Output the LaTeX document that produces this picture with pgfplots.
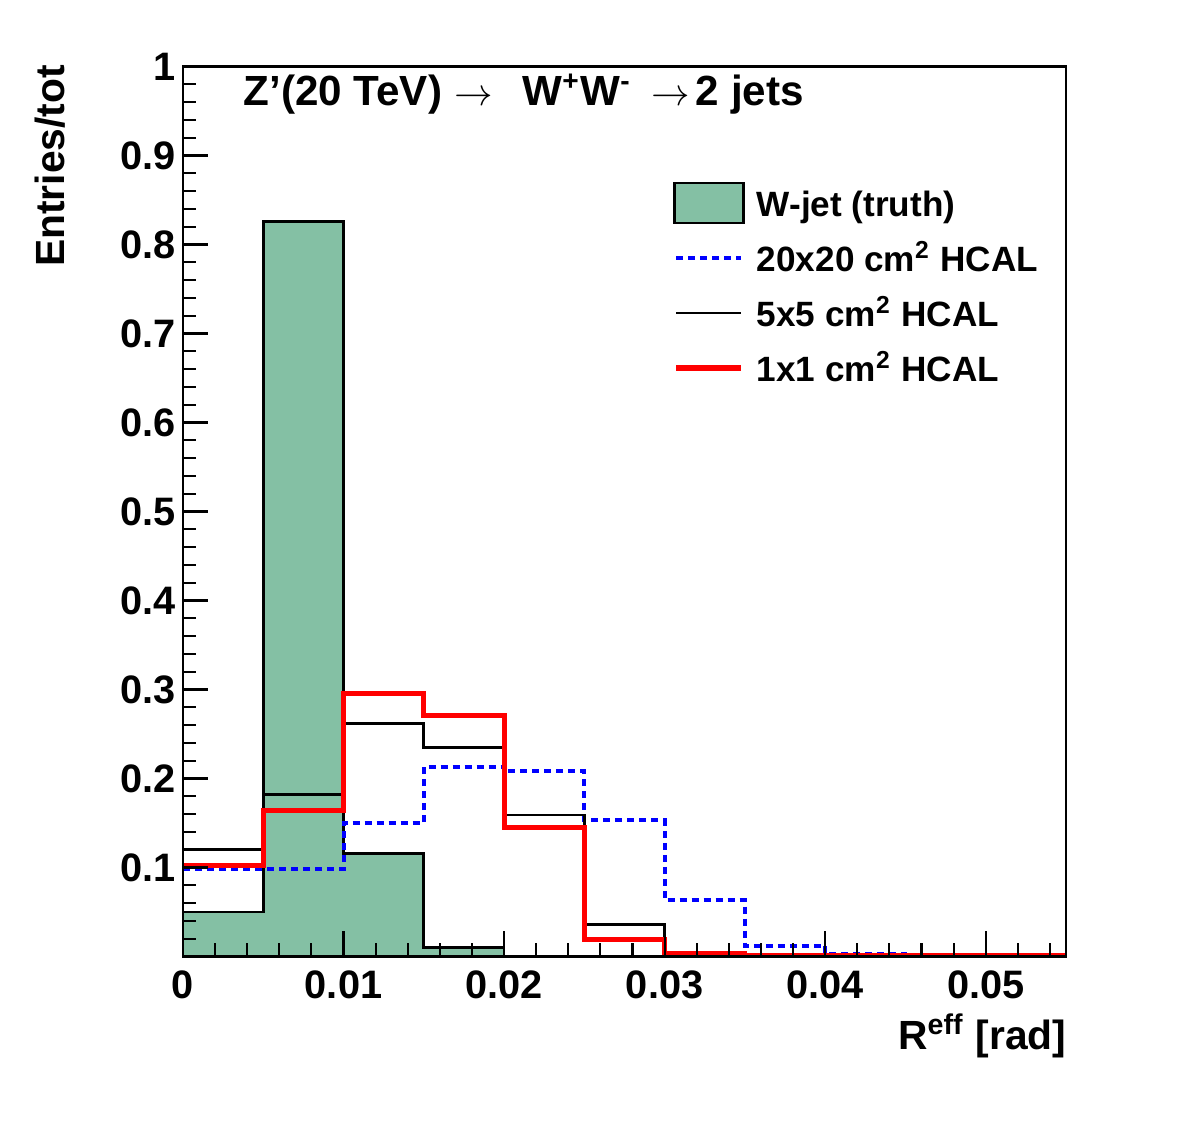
\documentclass[border=0pt]{standalone}
\usepackage{fontspec}
\setmainfont{Liberation Sans}
\usepackage{pgfplots}
\pgfplotsset{compat=1.18}

\definecolor{truthfill}{RGB}{132,192,164}
\definecolor{rootblue}{RGB}{0,0,255}
\definecolor{rootred}{RGB}{255,0,0}

\pgfplotsset{
  histline legend/.style={legend image code/.code={\draw[##1] (0.02cm,0cm) -- (0.67cm,0cm);}},
  histbox legend/.style={legend image code/.code={\draw[##1] (0cm,-0.2cm) rectangle (0.69cm,0.2cm);}},
}

\newcommand{\lblfont}{\bfseries\fontsize{11.6}{14}\selectfont}
\newcommand{\arr}{{\fontsize{10.5}{12}\selectfont$\rightarrow$}}

\begin{document}
\begin{tikzpicture}
% page frame around the axis box
\path[use as bounding box] (-1.83cm,-1.775cm) rectangle (9.99cm,9.565cm);
\begin{axis}[
  name=ax, at={(0,0)}, anchor=south west,
  scale only axis, width=8.83cm, height=8.90cm,
  xmin=0, xmax=0.055, ymin=0, ymax=1,
  axis on top,
  axis line style={line width=0.6pt},
  tick align=inside, tick pos=left,
  major tick length=0.25cm, minor tick length=0.13cm,
  tick style={black, line width=0.6pt},
  xtick={0,0.01,0.02,0.03,0.04,0.05},
  xticklabels={0,0.01,0.02,0.03,0.04,0.05},
  minor xtick={0.002,0.004,0.006,0.008,0.012,0.014,0.016,0.018,
               0.022,0.024,0.026,0.028,0.032,0.034,0.036,0.038,
               0.042,0.044,0.046,0.048,0.052,0.054},
  ytick={0,0.1,0.2,0.3,0.4,0.5,0.6,0.7,0.8,0.9,1},
  yticklabels={,0.1,0.2,0.3,0.4,0.5,0.6,0.7,0.8,0.9,1},
  minor y tick num=4,
  scaled ticks=false,
  /pgf/number format/assume math mode=true,
  ticklabel style={font=\bfseries\fontsize{11.3}{13}\selectfont, inner sep=0pt},
  xticklabel style={yshift=-0.135cm},
  yticklabel style={xshift=-0.07cm},
  legend cell align=left,
  legend style={
    at={(0.555,0.8775)}, anchor=north west,
    draw=none, fill=white, inner sep=0pt, outer sep=0pt,
    row sep=0pt,
    font=\bfseries\fontsize{10}{12}\selectfont,
    nodes={inner sep=0pt, text height=0.405cm, text depth=0.145cm},
    /tikz/every odd column/.append style={column sep=0.12cm},
  },
]

% W-jet (truth), filled histogram
\addplot[fill=truthfill, draw=black, line width=0.8pt, const plot, histbox legend]
  coordinates {
  (0.000,0.050) (0.005,0.826) (0.010,0.116) (0.015,0.010) (0.020,0.0005)
  (0.025,0) (0.030,0) (0.035,0) (0.040,0) (0.045,0) (0.050,0) (0.055,0)
  } \closedcycle;
\addlegendentry{W-jet (truth)}

% 20x20 cm^2 HCAL
\addplot[draw=rootblue, line width=1.15pt, dash pattern=on 0.07cm off 0.05cm,
  const plot, histline legend]
  coordinates {
  (0.000,0.098) (0.005,0.098) (0.010,0.150) (0.015,0.213) (0.020,0.208)
  (0.025,0.153) (0.030,0.0635) (0.035,0.012) (0.040,0.0025) (0.045,0)
  (0.050,0) (0.055,0)
  };
\addlegendentry{20x20 cm\textsuperscript{2} HCAL}

% 5x5 cm^2 HCAL
\addplot[draw=black, line width=0.8pt, const plot, histline legend]
  coordinates {
  (0.000,0.120) (0.005,0.182) (0.010,0.262) (0.015,0.235) (0.020,0.159)
  (0.025,0.036) (0.030,0.003) (0.035,0.001) (0.040,0) (0.045,0)
  (0.050,0) (0.055,0)
  };
\addlegendentry{5x5 cm\textsuperscript{2} HCAL}

% 1x1 cm^2 HCAL
\addplot[draw=rootred, line width=1.45pt, const plot, histline legend]
  coordinates {
  (0.000,0.102) (0.005,0.164) (0.010,0.296) (0.015,0.271) (0.020,0.145)
  (0.025,0.019) (0.030,0.003) (0.035,0.0005) (0.040,0.0005) (0.045,0.0005)
  (0.050,0.0005) (0.055,0.0005)
  };
\addlegendentry{1x1 cm\textsuperscript{2} HCAL}

\end{axis}

% title and axis titles
\node[anchor=base west, inner sep=0pt, font=\bfseries\fontsize{12}{14}\selectfont]
  at (0.60cm,8.505cm)
  {Z’(20 TeV)\hspace{0.12cm}\arr\hspace{0.3cm}W\textsuperscript{+}W\textsuperscript{-}\hspace{0.2cm}\arr\hspace{0.06cm}2 jets};
\node[rotate=90, anchor=base east, inner sep=0pt, font=\lblfont]
  at (-1.18cm,8.92cm) {Entries/tot};
\node[anchor=base east, inner sep=0pt, font=\lblfont]
  at (8.84cm,-0.935cm) {R\textsuperscript{eff} [rad]};
\end{tikzpicture}
\end{document}
